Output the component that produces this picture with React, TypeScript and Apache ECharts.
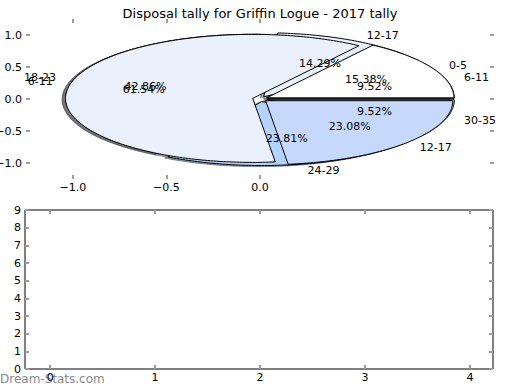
import React, { useEffect, useRef } from "react";
import * as echarts from "echarts";

const TITLE = "Disposal tally for Griffin Logue - 2017 tally";
const WATERMARK = "Dream-Stats.com";

// Pie A (drawn first, underneath)
const pieALabels = ["6-11", "12-17", "18-23", "24-29", "30-35"];
const pieACounts = [2, 3, 9, 5, 2];
const pieAColors = ["#ffffff", "#eaf1fd", "#ffffff", "#b4d3fb", "#c6d9fd"];
const pieAExplode = [0.04, 0.04, 0.04, 0.04, 0.04];

// Pie B (drawn on top)
const pieBLabels = ["0-5", "6-11", "12-17"];
const pieBCounts = [2, 8, 3];
const pieBColors = ["#ffffff", "#eaf1fd", "#c6d9fd"];
const pieBExplode = [0.04, 0.04, 0.04];

const pieTicksX = [-1, -0.5, 0];
const pieTicksY = [-1, -0.5, 0, 0.5, 1];
const lowTicksX = [0, 1, 2, 3, 4];
const lowTicksY = [0, 1, 2, 3, 4, 5, 6, 7, 8, 9];

const PIE_X = [-1.25, 1.25];
const PIE_Y = [-1.25, 1.25];
const LOW_X = [-0.24, 4.22];
const LOW_Y = [0, 9];

const FONT = '"DejaVu Sans", sans-serif';
const deg = Math.PI / 180;

type Wedge = { a0: number; a1: number; ex: number; color: string; label: string; pct: string };

function buildWedges(counts: number[], labels: string[], colors: string[], explode: number[]): Wedge[] {
  const total = counts.reduce((s, v) => s + v, 0);
  let a = 0;
  return counts.map((v, i) => {
    const span = (v / total) * 360;
    const w = { a0: a, a1: a + span, ex: explode[i], color: colors[i], label: labels[i], pct: ((v / total) * 100).toFixed(2) + "%" };
    a += span;
    return w;
  });
}

const wedgesA = buildWedges(pieACounts, pieALabels, pieAColors, pieAExplode);
const wedgesB = buildWedges(pieBCounts, pieBLabels, pieBColors, pieBExplode);
const allWedges = [...wedgesA, ...wedgesB];

type Txt = { x: number; y: number; text: string; align: string };
function buildTexts(ws: Wedge[]): Txt[] {
  const out: Txt[] = [];
  ws.forEach((w) => {
    const m = ((w.a0 + w.a1) / 2) * deg;
    const cx = w.ex * Math.cos(m);
    const cy = w.ex * Math.sin(m);
    const lx = cx + 1.1 * Math.cos(m);
    const ly = cy + 1.1 * Math.sin(m);
    out.push({ x: lx, y: ly, text: w.label, align: lx > 0 ? "left" : "right" });
    out.push({ x: cx + 0.6 * Math.cos(m), y: cy + 0.6 * Math.sin(m), text: w.pct, align: "center" });
  });
  return out;
}
const allTexts = [...buildTexts(wedgesA), ...buildTexts(wedgesB)];

function shadowColor(hex: string) {
  const r = parseInt(hex.slice(1, 3), 16) * 0.3;
  const g = parseInt(hex.slice(3, 5), 16) * 0.3;
  const b = parseInt(hex.slice(5, 7), 16) * 0.3;
  return `rgba(${Math.round(r)},${Math.round(g)},${Math.round(b)},0.5)`;
}

function wedgePoints(api: any, w: Wedge, dx: number, dy: number) {
  const m = ((w.a0 + w.a1) / 2) * deg;
  const cx = w.ex * Math.cos(m) + dx;
  const cy = w.ex * Math.sin(m) + dy;
  const pts: number[][] = [api.coord([cx, cy])];
  const n = Math.max(2, Math.ceil(w.a1 - w.a0));
  for (let i = 0; i <= n; i++) {
    const a = (w.a0 + ((w.a1 - w.a0) * i) / n) * deg;
    pts.push(api.coord([cx + Math.cos(a), cy + Math.sin(a)]));
  }
  return pts;
}

const fmtMinus = (v: number, d: number) => (v < 0 ? "\u2212" + Math.abs(v).toFixed(d) : v.toFixed(d));

// Hidden category axes whose slots span each axis range, used only to place the tick marks.
function slots(range: number[], step: number): string[] {
  const n = Math.round((range[1] - range[0]) / step);
  const out: string[] = [];
  for (let k = 0; k <= n; k++) out.push((range[0] + k * step).toFixed(2));
  return out;
}
const pieSlotsX = slots(PIE_X, 0.25);
const pieSlotsY = slots(PIE_Y, 0.25);
const lowSlotsX = slots(LOW_X, 0.02);

const isTick = (ticks: number[]) => (_i: number, v: string) => ticks.some((t) => Math.abs(Number(v) - t) < 1e-6);

const tickLine = { color: "#9c9c9c", width: 2 };
const labelStyle = { color: "#000", fontSize: 11, fontFamily: FONT };
const noLine = { show: false, onZero: false };
const noTick = { show: false };

function catTickAxis(gridIndex: number, position: string, data: string[], ticks: number[]) {
  return {
    gridIndex, type: "category", position, data, boundaryGap: false, z: 10,
    axisLine: noLine, splitLine: { show: false }, axisLabel: { show: false },
    axisTick: { show: true, inside: true, length: 4, interval: isTick(ticks), lineStyle: tickLine },
  };
}

export default function App() {
  const ref = useRef<HTMLDivElement>(null);
  useEffect(() => {
    if (!ref.current) return;
    const chart = echarts.init(ref.current, undefined, { renderer: "svg" });
    const option: any = {
      animation: false,
      backgroundColor: "#fff",
      title: {
        text: TITLE,
        left: "center",
        top: 2,
        textStyle: { fontSize: 13, fontWeight: "normal", fontFamily: FONT, color: "#000" },
      },
      graphic: [
        {
          type: "text",
          left: 0,
          top: 373,
          z: 0,
          style: { text: WATERMARK, fill: "#8a8a8a", font: `12px ${FONT}` },
        },
      ],
      grid: [
        { left: 26, right: 26, top: 19, height: 160, show: false, outerBoundsMode: "none", containLabel: false },
        {
          left: 25, right: 27, top: 210, height: 159, show: true, borderColor: "#000", borderWidth: 1, z: 0,
          backgroundColor: "rgba(0,0,0,0)", outerBoundsMode: "none", containLabel: false,
        },
      ],
      xAxis: [
        {
          gridIndex: 0, type: "value", position: "bottom", min: PIE_X[0], max: PIE_X[1],
          axisLine: noLine, splitLine: { show: false }, axisTick: noTick,
          axisLabel: { ...labelStyle, margin: 3, customValues: pieTicksX, formatter: (v: number) => fmtMinus(v, 1) },
        },
        {
          gridIndex: 1, type: "value", position: "bottom", min: LOW_X[0], max: LOW_X[1],
          axisLine: noLine, splitLine: { show: false }, axisTick: noTick,
          axisLabel: { ...labelStyle, margin: 3, customValues: lowTicksX },
        },
        catTickAxis(0, "bottom", pieSlotsX, pieTicksX),
        catTickAxis(0, "top", pieSlotsX, pieTicksX),
        catTickAxis(1, "bottom", lowSlotsX, lowTicksX),
        catTickAxis(1, "top", lowSlotsX, lowTicksX),
      ],
      yAxis: [
        {
          gridIndex: 0, type: "value", position: "left", min: PIE_Y[0], max: PIE_Y[1],
          axisLine: noLine, splitLine: { show: false }, axisTick: noTick,
          axisLabel: { ...labelStyle, margin: 4, customValues: pieTicksY, formatter: (v: number) => fmtMinus(v, 1) },
        },
        {
          gridIndex: 1, type: "value", position: "left", min: LOW_Y[0], max: LOW_Y[1], interval: 1, z: 10,
          axisLine: noLine, splitLine: { show: false },
          axisTick: { show: true, inside: true, length: 4, lineStyle: tickLine },
          axisLabel: { ...labelStyle, margin: 4 },
        },
        catTickAxis(0, "left", pieSlotsY, pieTicksY),
        catTickAxis(0, "right", pieSlotsY, pieTicksY),
        {
          gridIndex: 1, type: "value", position: "right", min: LOW_Y[0], max: LOW_Y[1], interval: 1, z: 10,
          axisLine: noLine, splitLine: { show: false },
          axisTick: { show: true, inside: true, length: 4, lineStyle: tickLine },
          axisLabel: { show: false },
        },
      ],
      series: [
        {
          type: "custom", xAxisIndex: 0, yAxisIndex: 0, z: 2, silent: true,
          data: allWedges.map(() => [0, 0]),
          renderItem: (params: any, api: any) => {
            const w = allWedges[params.dataIndex];
            const c = shadowColor(w.color);
            return {
              type: "polygon",
              shape: { points: wedgePoints(api, w, -0.018, -0.018) },
              style: { fill: c, stroke: c, lineWidth: 1 },
            };
          },
        },
        {
          type: "custom", xAxisIndex: 0, yAxisIndex: 0, z: 3, silent: true,
          data: wedgesA.map(() => [0, 0]),
          renderItem: (params: any, api: any) => {
            const w = wedgesA[params.dataIndex];
            return {
              type: "polygon",
              shape: { points: wedgePoints(api, w, 0, 0) },
              style: { fill: w.color, stroke: "#000", lineWidth: 1 },
            };
          },
        },
        {
          type: "custom", xAxisIndex: 0, yAxisIndex: 0, z: 4, silent: true,
          data: wedgesB.map(() => [0, 0]),
          renderItem: (params: any, api: any) => {
            const w = wedgesB[params.dataIndex];
            return {
              type: "polygon",
              shape: { points: wedgePoints(api, w, 0, 0) },
              style: { fill: w.color, stroke: "#000", lineWidth: 1 },
            };
          },
        },
        {
          type: "custom", xAxisIndex: 0, yAxisIndex: 0, z: 5, silent: true,
          data: allTexts.map(() => [0, 0]),
          renderItem: (params: any, api: any) => {
            const t = allTexts[params.dataIndex];
            const p = api.coord([t.x, t.y]);
            return {
              type: "text",
              x: p[0],
              y: p[1],
              style: { text: t.text, fill: "#000", font: `11px ${FONT}`, align: t.align, verticalAlign: "middle" },
            };
          },
        },
      ],
    };
    chart.setOption(option);
    return () => chart.dispose();
  }, []);
  return <div ref={ref} style={{ position: "fixed", left: 0, top: 0, width: 520, height: 390 }} />;
}
